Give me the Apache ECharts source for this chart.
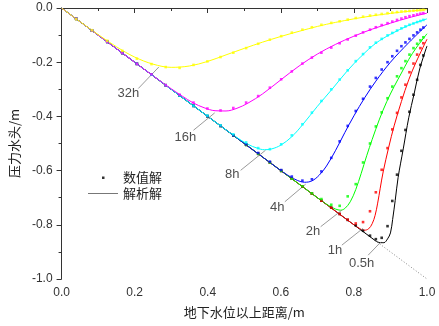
<!DOCTYPE html>
<html>
<head>
<meta charset="utf-8">
<script src="https://cdn.jsdelivr.net/npm/echarts@6/dist/echarts.min.js"></script>
<style>
  html, body { margin: 0; padding: 0; background: #fff; }
  #main { width: 439px; height: 326px; }
</style>
</head>
<body>
<div id="main"></div>
<script>
// x positions of the numerical points (shared by all times)
var gridX = [0.040, 0.083, 0.125, 0.166, 0.206, 0.246, 0.285, 0.323, 0.361, 0.399,
             0.435, 0.470, 0.505, 0.538, 0.570, 0.601, 0.630, 0.659, 0.685, 0.711,
             0.738, 0.761, 0.783, 0.805, 0.825, 0.844, 0.860, 0.876, 0.892, 0.905,
             0.918, 0.930, 0.941, 0.952, 0.963, 0.973, 0.982, 0.990];

// numerical solution (数值解), pressure head at gridX
var num05h = [-0.040, -0.083, -0.125, -0.166, -0.206, -0.246, -0.285, -0.323, -0.361, -0.399,
              -0.435, -0.470, -0.505, -0.538, -0.570, -0.601, -0.630, -0.659, -0.685, -0.711,
              -0.737, -0.760, -0.782, -0.802, -0.822, -0.840, -0.853, -0.848, -0.805, -0.712,
              -0.615, -0.527, -0.450, -0.383, -0.320, -0.265, -0.210, -0.175];
var num1h = [-0.040, -0.083, -0.125, -0.166, -0.206, -0.246, -0.285, -0.323, -0.361, -0.399,
             -0.435, -0.470, -0.505, -0.538, -0.570, -0.601, -0.630, -0.659, -0.685, -0.711,
             -0.737, -0.760, -0.781, -0.795, -0.790, -0.750, -0.680, -0.597, -0.517, -0.448,
             -0.387, -0.330, -0.283, -0.237, -0.205, -0.172, -0.148, -0.130];
var num2h = [-0.040, -0.083, -0.125, -0.166, -0.206, -0.246, -0.285, -0.323, -0.361, -0.399,
             -0.435, -0.470, -0.505, -0.538, -0.570, -0.601, -0.630, -0.658, -0.684, -0.705,
             -0.726, -0.730, -0.695, -0.650, -0.570, -0.500, -0.437, -0.385, -0.333, -0.290,
             -0.252, -0.222, -0.196, -0.172, -0.148, -0.132, -0.119, -0.108];
var num4h = [-0.040, -0.083, -0.125, -0.166, -0.206, -0.246, -0.285, -0.323, -0.361, -0.399,
             -0.435, -0.470, -0.503, -0.535, -0.567, -0.598, -0.622, -0.637, -0.632, -0.603,
             -0.553, -0.492, -0.435, -0.380, -0.335, -0.290, -0.258, -0.227, -0.200, -0.178,
             -0.158, -0.141, -0.127, -0.114, -0.101, -0.090, -0.080, -0.072];
var num8h = [-0.040, -0.083, -0.125, -0.166, -0.206, -0.246, -0.285, -0.323, -0.361, -0.397,
             -0.433, -0.466, -0.496, -0.517, -0.521, -0.503, -0.470, -0.429, -0.386, -0.343,
             -0.300, -0.264, -0.230, -0.196, -0.170, -0.145, -0.128, -0.114, -0.101, -0.092,
             -0.083, -0.075, -0.068, -0.062, -0.057, -0.052, -0.048, -0.044];
var num16h = [-0.040, -0.083, -0.125, -0.166, -0.206, -0.245, -0.285, -0.320, -0.349, -0.371,
              -0.378, -0.369, -0.349, -0.325, -0.294, -0.263, -0.234, -0.205, -0.183, -0.165,
              -0.146, -0.130, -0.116, -0.102, -0.090, -0.080, -0.071, -0.063, -0.056, -0.050,
              -0.044, -0.039, -0.034, -0.030, -0.027, -0.024, -0.021, -0.019];
var num32h = [-0.041, -0.082, -0.121, -0.158, -0.187, -0.207, -0.218, -0.221, -0.210, -0.197,
              -0.181, -0.165, -0.148, -0.132, -0.117, -0.104, -0.091, -0.080, -0.071, -0.062,
              -0.055, -0.049, -0.043, -0.037, -0.032, -0.028, -0.025, -0.022, -0.019, -0.017,
              -0.015, -0.013, -0.012, -0.011, -0.010, -0.009, -0.008, -0.007];

// analytical solution (解析解), [x, h] read along each curve from where it leaves h = -z
var ana05h = [[0.86, -0.86], [0.872, -0.866], [0.882, -0.866], [0.892, -0.852], [0.9, -0.83],
              [0.906, -0.78], [0.913, -0.71], [0.921, -0.625], [0.935, -0.52], [0.95, -0.405],
              [0.965, -0.315], [0.98, -0.225], [1.0, -0.14]];
var ana1h = [[0.8, -0.8], [0.815, -0.813], [0.828, -0.82], [0.84, -0.815], [0.85, -0.796],
             [0.858, -0.765], [0.865, -0.72], [0.872, -0.665], [0.88, -0.605], [0.895, -0.515],
             [0.91, -0.435], [0.93, -0.345], [0.95, -0.265], [0.97, -0.2], [1.0, -0.115]];
var ana2h = [[0.715, -0.715], [0.735, -0.732], [0.75, -0.742], [0.763, -0.746], [0.775, -0.74],
             [0.79, -0.715], [0.805, -0.67], [0.82, -0.61], [0.835, -0.545], [0.85, -0.485],
             [0.87, -0.41], [0.89, -0.345], [0.91, -0.29], [0.93, -0.24], [0.95, -0.19],
             [0.97, -0.148], [1.0, -0.095]];
var ana4h = [[0.6, -0.6], [0.625, -0.622], [0.645, -0.636], [0.665, -0.643], [0.685, -0.638],
             [0.705, -0.617], [0.725, -0.583], [0.75, -0.525], [0.775, -0.46], [0.8, -0.398],
             [0.83, -0.33], [0.86, -0.27], [0.9, -0.2], [0.95, -0.128], [1.0, -0.062]];
var ana8h = [[0.45, -0.45], [0.48, -0.478], [0.51, -0.503], [0.535, -0.517], [0.555, -0.523],
             [0.575, -0.52], [0.6, -0.506], [0.63, -0.475], [0.66, -0.43], [0.7, -0.363],
             [0.74, -0.3], [0.78, -0.235], [0.82, -0.178], [0.86, -0.13], [0.9, -0.097],
             [0.95, -0.064], [1.0, -0.04]];
var ana16h = [[0.25, -0.25], [0.3, -0.298], [0.33, -0.325], [0.36, -0.35], [0.39, -0.368],
              [0.42, -0.379], [0.45, -0.38], [0.48, -0.37], [0.51, -0.351], [0.55, -0.317],
              [0.6, -0.265], [0.65, -0.214], [0.7, -0.17], [0.75, -0.134], [0.8, -0.104],
              [0.85, -0.078], [0.9, -0.056], [0.95, -0.036], [1.0, -0.019]];
var ana32h = [[0, 0], [0.05, -0.05], [0.1, -0.098], [0.15, -0.143], [0.2, -0.181], [0.25, -0.207],
              [0.3, -0.219], [0.35, -0.214], [0.4, -0.197], [0.45, -0.173], [0.5, -0.149],
              [0.55, -0.126], [0.6, -0.105], [0.65, -0.086], [0.7, -0.068], [0.75, -0.053],
              [0.8, -0.04], [0.85, -0.029], [0.9, -0.02], [0.95, -0.012], [1.0, -0.006]];

// initial state h = -z (dotted)
var initLine = [[0, 0], [1, -1]];

var timeLabels = ['0.5h', '1h', '2h', '4h', '8h', '16h', '32h'];
var numSets = [num05h, num1h, num2h, num4h, num8h, num16h, num32h];
var anaSets = [ana05h, ana1h, ana2h, ana4h, ana8h, ana16h, ana32h];
var colors = ['#000000', '#ff0000', '#00ff00', '#0000ff', '#00ffff', '#ff00ff', '#ffff00'];

// where each time label sits, and its leader line (from label to curve)
var labelAt = [[0.821, -0.941], [0.748, -0.893], [0.688, -0.825], [0.590, -0.737],
               [0.467, -0.613], [0.339, -0.477], [0.183, -0.315]];
var leaderFrom = [[0.839, -0.912], [0.767, -0.875], [0.709, -0.807], [0.611, -0.715],
                  [0.490, -0.599], [0.361, -0.451], [0.210, -0.297]];
var leaderTo = [[0.874, -0.863], [0.825, -0.813], [0.767, -0.746], [0.668, -0.650],
                [0.558, -0.525], [0.419, -0.387], [0.266, -0.218]];

var txtFont = 'Liberation Sans, Arial, sans-serif';
var cjkFont = 'Noto Sans CJK SC, sans-serif';

var chart = echarts.init(document.getElementById('main'));
var series = [];

series.push({
    name: 'init',
    type: 'line',
    data: initLine,
    showSymbol: false,
    silent: true,
    z: 1,
    lineStyle: { color: '#888', width: 1, type: [1, 2] }
});

anaSets.forEach(function (d, i) {
    // straight part along h = -z before the curve leaves it
    series.push({
        name: '解析解',
        type: 'line',
        data: [[0, 0], d[0]],
        showSymbol: false,
        z: 2,
        color: colors[i],
        lineStyle: { color: colors[i], width: 1 }
    });
    series.push({
        name: '解析解',
        type: 'line',
        data: d,
        showSymbol: false,
        smooth: 0.35,
        z: 2,
        color: colors[i],
        lineStyle: { color: colors[i], width: 1 }
    });
});

leaderFrom.forEach(function (p, i) {
    series.push({
        name: 'leader' + i,
        type: 'line',
        data: [p, leaderTo[i]],
        showSymbol: false,
        silent: true,
        z: 2,
        lineStyle: { color: '#808080', width: 0.8 }
    });
});

numSets.forEach(function (ys, i) {
    series.push({
        name: '数值解',
        type: 'scatter',
        data: gridX.map(function (x, k) { return [x, ys[k]]; }),
        symbol: 'rect',
        symbolSize: 2.6,
        z: 3,
        color: colors[i],
        itemStyle: { color: colors[i] }
    });
});

series.push({
    name: 'labels',
    type: 'scatter',
    data: labelAt.map(function (p, i) { return { value: p, name: timeLabels[i] }; }),
    symbolSize: 0,
    silent: true,
    z: 4,
    label: {
        show: true,
        position: 'inside',
        formatter: '{b}',
        color: '#222',
        fontSize: 13,
        fontFamily: txtFont
    }
});

var option = {
    animation: false,
    backgroundColor: '#fff',
    grid: { left: 54, top: 8, right: 12, bottom: 47 },
    legend: {
        orient: 'vertical',
        left: 88,
        top: 171,
        padding: 0,
        itemWidth: 30,
        itemHeight: 6,
        itemGap: 3,
        selectedMode: false,
        textStyle: { fontSize: 13, fontFamily: cjkFont, color: '#222' },
        data: [
            { name: '数值解', icon: 'path://M0,0 M30,6 M14,2 L16.5,2 L16.5,4.5 L14,4.5 Z',
              itemStyle: { color: '#000' } },
            { name: '解析解', icon: 'path://M0,0 M30,6 M0,2.5 L30,2.5 L30,3.5 L0,3.5 Z',
              itemStyle: { color: '#777' } }
        ]
    },
    xAxis: {
        type: 'value',
        min: 0,
        max: 1,
        interval: 0.2,
        name: '地下水位以上距离/m',
        nameLocation: 'middle',
        nameGap: 27,
        nameTextStyle: { fontSize: 13, fontFamily: cjkFont, color: '#222' },
        axisLine: { lineStyle: { color: '#333', width: 1 } },
        axisTick: { length: 5, lineStyle: { color: '#333' } },
        minorTick: { show: true, splitNumber: 2, length: 3, lineStyle: { color: '#333' } },
        splitLine: { show: false },
        axisLabel: {
            margin: 8,
            fontSize: 12,
            fontFamily: txtFont,
            color: '#333',
            formatter: function (v) { return Math.abs(v) < 1e-9 ? '0.0' : v.toFixed(1); }
        }
    },
    yAxis: {
        type: 'value',
        min: -1,
        max: 0,
        interval: 0.2,
        name: '压力水头/m',
        nameLocation: 'middle',
        nameGap: 33,
        nameTextStyle: { fontSize: 13, fontFamily: cjkFont, color: '#222' },
        axisLine: { lineStyle: { color: '#333', width: 1 } },
        axisTick: { length: 5, lineStyle: { color: '#333' } },
        minorTick: { show: true, splitNumber: 2, length: 3, lineStyle: { color: '#333' } },
        splitLine: { show: false },
        axisLabel: {
            margin: 9,
            fontSize: 12,
            fontFamily: txtFont,
            color: '#333',
            formatter: function (v) { return Math.abs(v) < 1e-9 ? '0.0' : v.toFixed(1); }
        }
    },
    series: series
};

chart.setOption(option);
</script>
</body>
</html>
